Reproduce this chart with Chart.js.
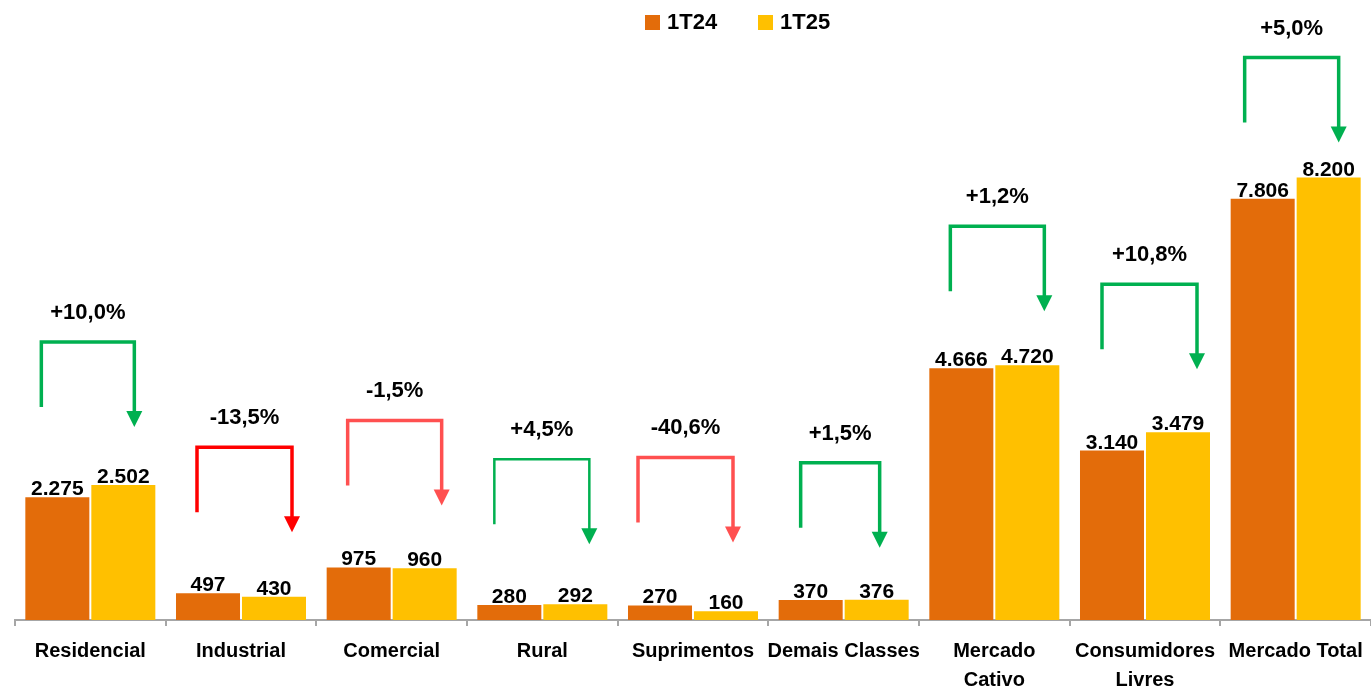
<!DOCTYPE html>
<html>
<head>
<meta charset="utf-8">
<script src="https://cdn.jsdelivr.net/npm/chart.js@4.4.1/dist/chart.umd.min.js"></script>
<style>
    html, body { margin: 0; padding: 0; background: #fff; }
    #wrap { width: 1371px; height: 690px; }
</style>
</head>
<body>
<div id="wrap"><canvas id="mercadoChart"></canvas></div>
<script>
// MARKET DATA (GWh)
const categories = ['Residencial', 'Industrial', 'Comercial', 'Rural', 'Suprimentos', 'Demais Classes',
    ['Mercado', 'Cativo'], ['Consumidores', 'Livres'], 'Mercado Total'];
const seriesNames = ['1T24', '1T25'];
const values1T24 = [2275, 497, 975, 280, 270, 370, 4666, 3140, 7806];
const values1T25 = [2502, 430, 960, 292, 160, 376, 4720, 3479, 8200];
const variations = ['+10,0%', '-13,5%', '-1,5%', '+4,5%', '-40,6%', '+1,5%', '+1,2%', '+10,8%', '+5,0%'];

// arrow look (hand placed in the original)
const GREEN = '#00B050', RED = '#FF0000', SALMON = '#FF5050';
const arrowColors = [GREEN, RED, SALMON, GREEN, SALMON, GREEN, GREEN, GREEN, GREEN];
const arrowWidths = [3.5, 3.5, 3.5, 2.5, 3.5, 3.5, 3.5, 3.5, 3.5];
const arrowLift = [143, 146, 147, 145, 148, 137, 139, 148, 120];
const arrowLeft = [-49, -44, -44, -48, -55, -43, -44, -43, -51];
const arrowRight = [44, 51, 50, 47, 40, 36, 50, 52, 43];

const FONT = "'Liberation Sans', Arial, sans-serif";
const ORANGE = '#E36C0A', YELLOW = '#FFC000';

function fmt(v) {
    return String(v).replace(/\B(?=(\d{3})+(?!\d))/g, '.');
}

const labelsPlugin = {
    id: 'labelsPlugin',
    afterDatasetsDraw(chart) {
        const ctx = chart.ctx;
        ctx.save();
        ctx.fillStyle = '#000';
        ctx.font = 'bold 21px ' + FONT;
        ctx.textAlign = 'center';
        ctx.textBaseline = 'alphabetic';
        chart.data.datasets.forEach((ds, di) => {
            chart.getDatasetMeta(di).data.forEach((bar, i) => {
                ctx.fillText(fmt(ds.data[i]), bar.x, bar.y - 2);
            });
        });

        // variation arrows
        const xs = chart.scales.x, ys = chart.scales.y;
        variations.forEach((txt, i) => {
            const cx = xs.getPixelForValue(i);
            const barTop = ys.getPixelForValue(Math.max(values1T24[i], values1T25[i]));
            const top = barTop - arrowLift[i];
            const lx = cx + arrowLeft[i], rx = cx + arrowRight[i];
            const tip = top + 85;
            ctx.strokeStyle = arrowColors[i];
            ctx.fillStyle = arrowColors[i];
            ctx.lineWidth = arrowWidths[i];
            ctx.lineJoin = 'miter';
            ctx.beginPath();
            ctx.moveTo(lx, top + 65);
            ctx.lineTo(lx, top);
            ctx.lineTo(rx, top);
            ctx.lineTo(rx, tip - 14);
            ctx.stroke();
            ctx.beginPath();
            ctx.moveTo(rx - 8, tip - 16);
            ctx.lineTo(rx + 8, tip - 16);
            ctx.lineTo(rx, tip);
            ctx.closePath();
            ctx.fill();
            ctx.fillStyle = '#000';
            ctx.font = 'bold 22px ' + FONT;
            ctx.textBaseline = 'middle';
            ctx.fillText(txt, (lx + rx) / 2, top - 29);
        });
        ctx.restore();
    },
    afterDraw(chart) {
        // legend drawn by hand so it can sit right of centre like the original
        const ctx = chart.ctx;
        ctx.save();
        ctx.font = 'bold 22px ' + FONT;
        ctx.textBaseline = 'middle';
        ctx.textAlign = 'left';
        let x = 645;
        chart.data.datasets.forEach(ds => {
            ctx.fillStyle = ds.backgroundColor;
            ctx.fillRect(x, 15, 15, 15);
            ctx.fillStyle = '#000';
            ctx.fillText(ds.label, x + 22, 23);
            x += 113;
        });
        ctx.restore();
    }
};

const ctx = document.getElementById('mercadoChart').getContext('2d');
new Chart(ctx, {
    type: 'bar',
    data: {
        labels: categories,
        datasets: [
            { label: seriesNames[0], data: values1T24, backgroundColor: ORANGE },
            { label: seriesNames[1], data: values1T25, backgroundColor: YELLOW }
        ]
    },
    options: {
        responsive: true,
        maintainAspectRatio: false,
        animation: false,
        categoryPercentage: 0.876,
        barPercentage: 0.97,
        layout: { padding: { left: 15, right: -3, top: 40, bottom: 0 } },
        scales: {
            x: {
                afterFit: s => {
                    s.height = 70;
                    s.paddingLeft = 0;
                    s.paddingRight = 0;
                },
                grid: {
                    display: true,
                    drawOnChartArea: false,
                    drawTicks: true,
                    tickLength: 6,
                    color: '#A6A6A6',
                    lineWidth: 2
                },
                border: { display: true, color: '#A6A6A6', width: 2 },
                ticks: {
                    color: '#000',
                    padding: 11,
                    maxRotation: 0,
                    autoSkip: false,
                    font: { family: FONT, size: 20, weight: 'bold', lineHeight: 1.45 }
                }
            },
            y: {
                display: false,
                min: 0,
                max: 10750
            }
        },
        plugins: {
            legend: { display: false },
            tooltip: { enabled: false }
        }
    },
    plugins: [labelsPlugin]
});
</script>
</body>
</html>
